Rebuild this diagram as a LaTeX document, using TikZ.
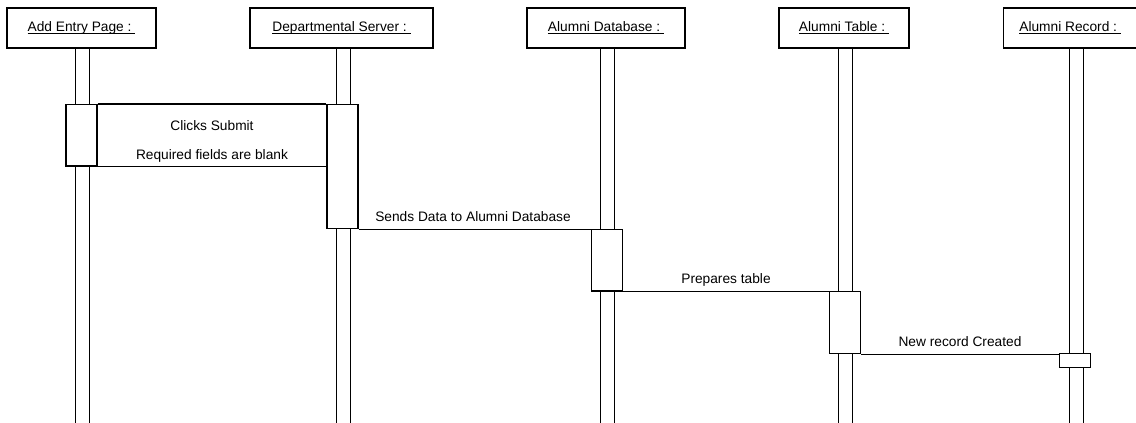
\documentclass[tikz,border=0pt]{standalone}
\usepackage{fontspec}
\setmainfont{Liberation Sans}
\newcommand\hdrul[1]{\setbox0\hbox{#1}\rlap{\copy0}\raisebox{-2.2pt}{\rule{\wd0}{0.8pt}}}
\begin{document}
\begin{tikzpicture}[x=0.75pt,y=-0.75pt,
  every node/.style={font=\fontsize{10.3}{12}\selectfont},
  hdr/.style={draw,line width=0.9pt,fill=white,inner sep=0pt},
  life/.style={draw,line width=0.9pt,fill=white,inner sep=0pt,minimum width=10.5pt},
  act/.style={draw,line width=0.9pt,fill=white,inner sep=0pt,minimum width=23.25pt},
  msg/.style={line width=0.9pt},
  lbl/.style={inner sep=0pt}]
\useasboundingbox (0,0) rectangle (1136,422);
% header boxes
\node[hdr,minimum width=111.75pt,minimum height=30pt] (h1) at (81.5,28) {\hdrul{Add Entry Page :\ }};
\node[hdr,minimum width=137.25pt,minimum height=30pt] (h2) at (341.5,28) {\hdrul{Departmental Server :\ }};
\node[hdr,minimum width=118.5pt,minimum height=30pt] (h3) at (606,28) {\hdrul{Alumni Database :\ }};
\node[hdr,minimum width=97.5pt,minimum height=30pt] (h4) at (844,28) {\hdrul{Alumni Table :\ }};
\node[hdr,minimum width=99.75pt,minimum height=30pt,anchor=west] (h5) at (1003,28) {\hdrul{Alumni Record :\ }};
% lifelines
\node[life,minimum height=282pt,anchor=north] (l1) at (82.5,48) {};
\node[life,minimum height=282pt,anchor=north] (l2) at (343.5,48) {};
\node[life,minimum height=282pt,anchor=north] (l3) at (607.5,48) {};
\node[life,minimum height=282pt,anchor=north] (l4) at (845.5,48) {};
\node[life,minimum height=282pt,anchor=north] (l5) at (1076.5,48) {};
% activations
\node[act,minimum height=46pt,anchor=north] (a1) at (81.5,104) {};
\node[act,minimum height=93pt,anchor=north] (a2) at (342.5,104) {};
\node[act,minimum height=46pt,anchor=north] (a3) at (607,229) {};
\node[act,minimum height=46.5pt,anchor=north] (a4) at (845,291) {};
\node[act,minimum height=10.5pt,anchor=north] (a5) at (1075,353) {};
% messages
\draw[msg] (a1.north east) -- (a2.north west);
\draw[msg] (a1.south east) -- (a1.south east -| a2.west);
\draw[msg] (a2.south east) -- (a2.south east -| a3.west);
\draw[msg] (a3.south east) -- (a3.south east -| a4.west);
\draw[msg] (a4.south east) -- (a4.south east -| a5.west);
% labels
\node[lbl] (t1) at (212,126) {Clicks Submit};
\node[lbl] (t2) at (212,156) {Required fields are blank};
\node[lbl] (t3) at (473,217) {Sends Data to Alumni Database};
\node[lbl] (t4) at (726,280) {Prepares table};
\node[lbl] (t5) at (960,342) {New record Created};
\end{tikzpicture}
\end{document}
